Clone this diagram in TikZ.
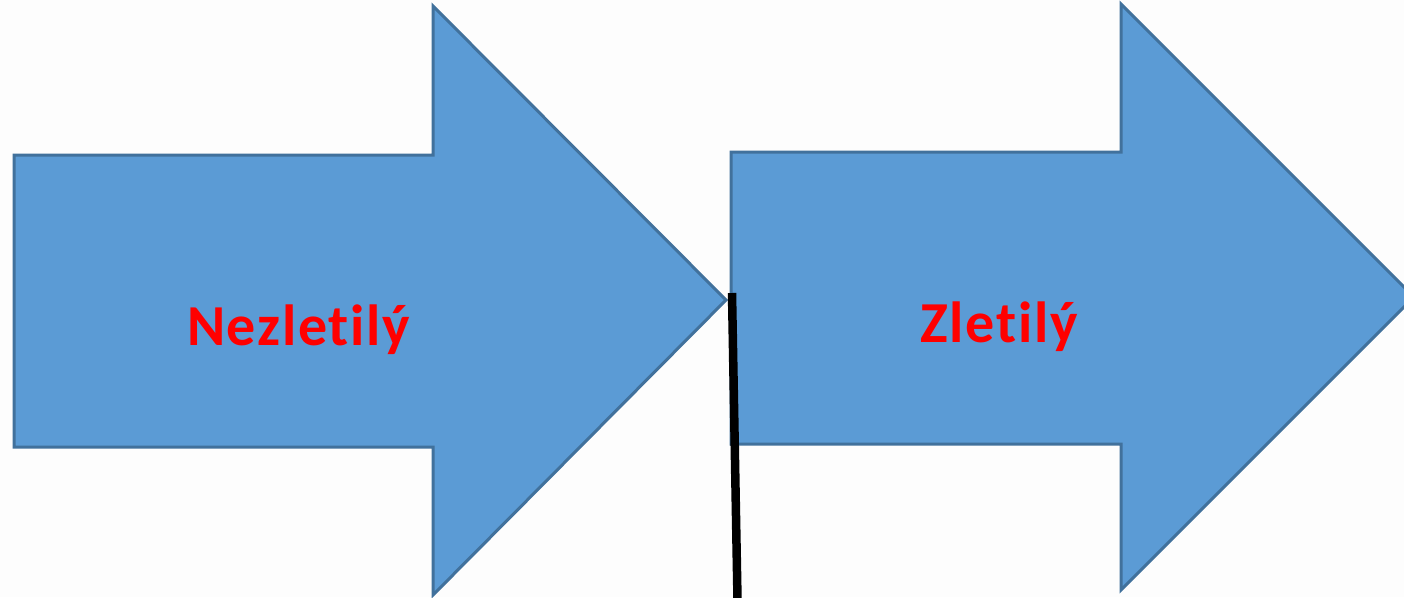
\documentclass[tikz,border=0pt]{standalone}
\usepackage{fontspec}
\setmainfont[Ligatures=NoCommon,LetterSpace=3]{Carlito}
\definecolor{arrfill}{HTML}{5B9BD5}
\definecolor{arrline}{HTML}{41719C}
\definecolor{bg}{HTML}{FDFDFD}
\begin{document}
\begin{tikzpicture}[x=1pt,y=-1pt,
  bigarrow/.style={fill=arrfill,draw=arrline,line width=3pt,line join=miter},
  lbl/.style={text=red,font=\fontsize{58}{60}\selectfont\bfseries,anchor=base,inner sep=0pt},
  divider/.style={draw=black,line width=8.5pt}]
\useasboundingbox (0,0) rectangle (1404,597);
\clip (0,0) rectangle (1404,597);
\fill[bg] (0,0) rectangle (1404,597);
% left arrow
\draw[bigarrow] (14,155) -- (433,155) -- (433,6) -- (726,300) -- (433,595) -- (433,447) -- (14,447) -- cycle;
% right arrow
\draw[bigarrow] (731,152) -- (1121,152) -- (1121,4) -- (1414,297) -- (1121,590) -- (1121,444) -- (731,444) -- cycle;
\node[lbl] (left) at (298.5,345) {Nezletilý};
\node[lbl] (right) at (999,342) {Zletilý};
\coordinate (ltop) at (732,293);
\coordinate (lbot) at (737.5,600);
\draw[divider] (ltop) -- (lbot);
\end{tikzpicture}
\end{document}
